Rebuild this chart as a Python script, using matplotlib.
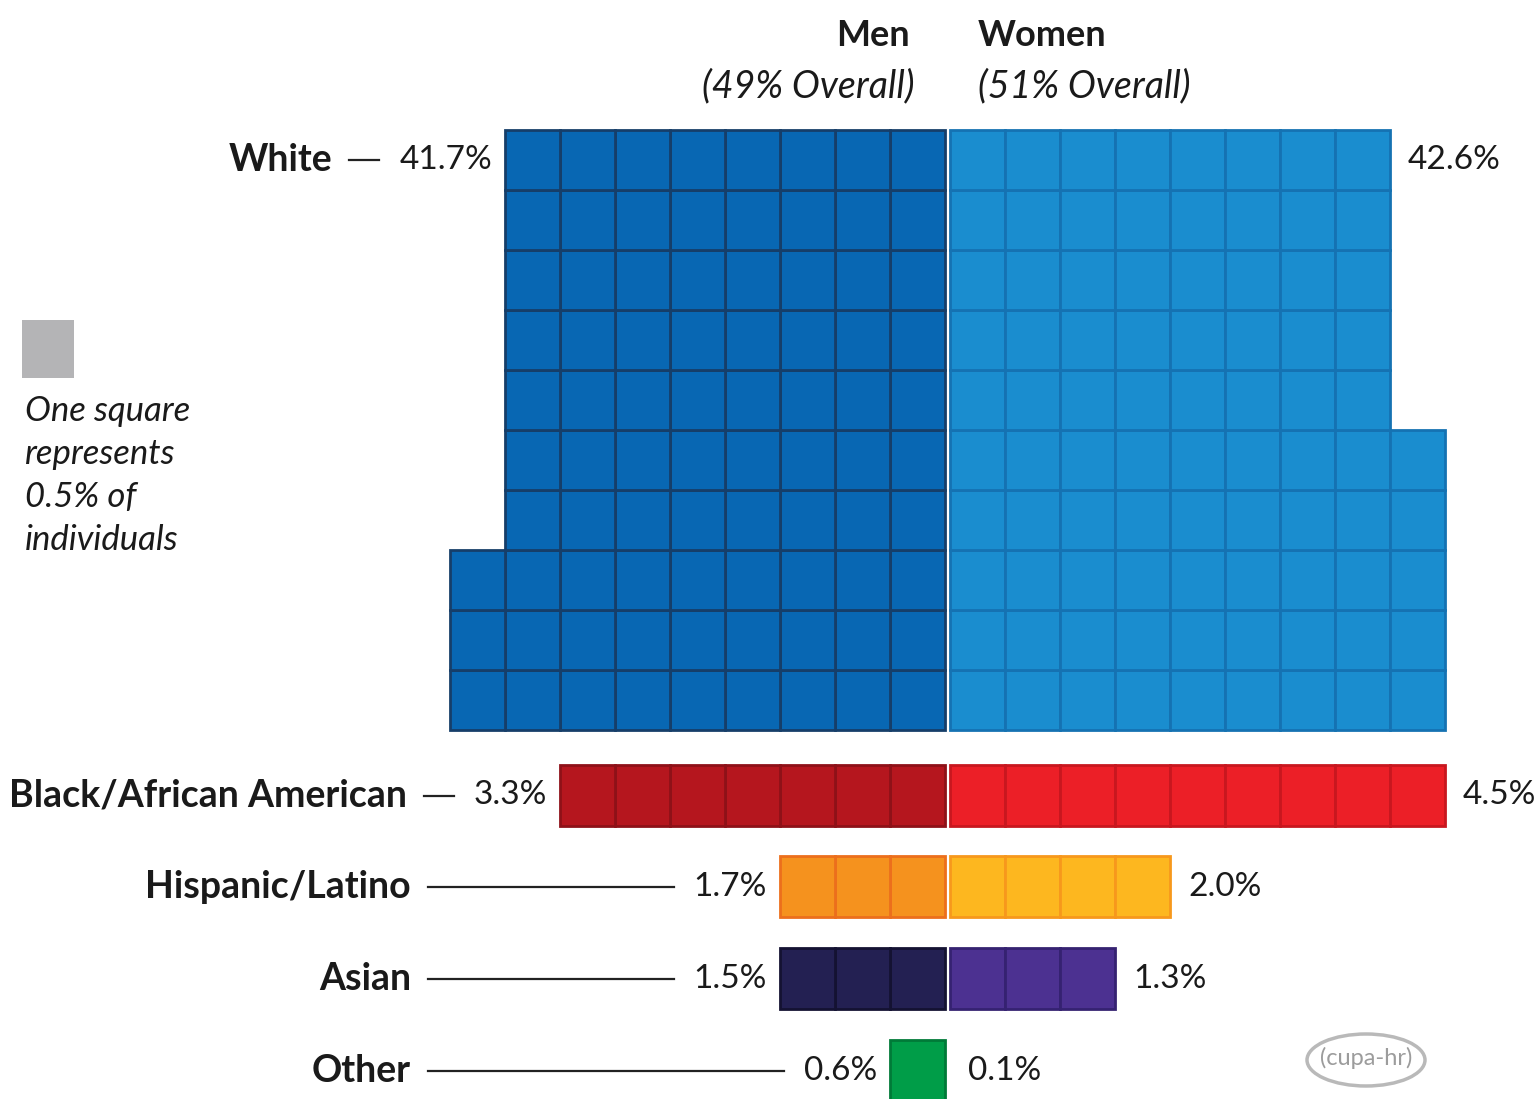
import matplotlib
matplotlib.use("Agg")
import matplotlib.pyplot as plt
from matplotlib.patches import Rectangle, Ellipse

plt.rcParams['font.family'] = ['Lato', 'DejaVu Sans']

# ---- data ----
categories = ["White", "Black/African American", "Hispanic/Latino", "Asian", "Other"]
men_pct = [41.7, 3.3, 1.7, 1.5, 0.6]
women_pct = [42.6, 4.5, 2.0, 1.3, 0.1]
unit = 0.5  # one square = 0.5%
headers = ["Men", "Women"]
subheaders = ["(49% Overall)", "(51% Overall)"]
legend_lines = ["One square", "represents", "0.5% of", "individuals"]

# ---- styles ----
men_fill = ["#0867b3", "#b5161e", "#f5921e", "#232052", "#009d48"]
men_edge = ["#163e69", "#8e1118", "#ec6f1c", "#141232", "#007a38"]
women_fill = ["#1a8dcf", "#ec1f27", "#fdb71f", "#4c3191", "#3cb44b"]
women_edge = ["#1572b2", "#c8171f", "#f7981c", "#352271", "#2a8a38"]
rows_per_cat = [10, 1, 1, 1, 1]
row_tops = [130, 765, 856, 948, 1040]
cell_h = [60, 61, 61, 61, 61]
cell_w = 55
center_left, center_right = 945, 950
text_col = "#1a1a1a"

fig = plt.figure(figsize=(15.4, 10.99), dpi=100)
ax = fig.add_axes([0, 0, 1, 1])
ax.set_xlim(0, 1540)
ax.set_ylim(1099, 0)
ax.axis("off")
renderer = fig.canvas.get_renderer()

for k, cat in enumerate(categories):
    rows = rows_per_cat[k]
    h = cell_h[k]
    bottom = row_tops[k] + rows * h
    n_men = int(round(men_pct[k] / unit))
    n_women = int(round(women_pct[k] / unit))
    for side, n in (("m", n_men), ("w", n_women)):
        for i in range(n):
            col = i // rows
            r = i % rows
            y = bottom - (r + 1) * h
            if side == "m":
                x = center_left - (col + 1) * cell_w
                fc, ec = men_fill[k], men_edge[k]
            else:
                x = center_right + col * cell_w
                fc, ec = women_fill[k], women_edge[k]
            ax.add_patch(Rectangle((x, y), cell_w, h, facecolor=fc,
                                   edgecolor=ec, linewidth=2.0, zorder=2))
    # top-row widths
    top_m = n_men // rows if rows > 1 else n_men
    top_w = n_women // rows if rows > 1 else n_women
    yc = row_tops[k] + h / 2
    # men % label
    xm = center_left - top_m * cell_w - 13
    t = ax.text(xm, yc, f"{men_pct[k]:.1f}%", ha="right", va="center",
                fontsize=24, color=text_col)
    bb = t.get_window_extent(renderer)
    label_left = bb.x0  # pixel coordinates == data x here
    line_end = label_left - 20
    line_start = min(428, line_end - 30)
    ax.plot([line_start, line_end], [yc, yc], color="#222222", lw=1.6)
    ax.text(line_start - 17, yc, cat, ha="right", va="center",
            fontsize=27, fontweight="bold", color=text_col)
    # women % label
    xw = center_right + top_w * cell_w + 18
    ax.text(xw, yc, f"{women_pct[k]:.1f}%", ha="left", va="center",
            fontsize=24, color=text_col)

# headers
ax.text(910, 36, headers[0], ha="right", va="center", fontsize=26,
        fontweight="bold", color=text_col)
ax.text(978, 36, headers[1], ha="left", va="center", fontsize=26,
        fontweight="bold", color=text_col)
ax.text(915, 86, subheaders[0], ha="right", va="center", fontsize=27,
        style="italic", color=text_col)
ax.text(978, 86, subheaders[1], ha="left", va="center", fontsize=27,
        style="italic", color=text_col)

# legend
ax.add_patch(Rectangle((22, 320), 52, 58, facecolor="#b4b4b6",
                       edgecolor="none"))
for j, line in enumerate(legend_lines):
    ax.text(25, 411 + j * 43, line, ha="left", va="center", fontsize=25,
            style="italic", color=text_col)

# logo
ax.add_patch(Ellipse((1366, 1060), 118, 52, facecolor="none",
                     edgecolor="#b9b9b9", lw=2.5))
ax.text(1366, 1058, "(cupa-hr)", ha="center", va="center", fontsize=17,
        color="#9c9c9c")

fig.savefig("out.png", dpi=100)
